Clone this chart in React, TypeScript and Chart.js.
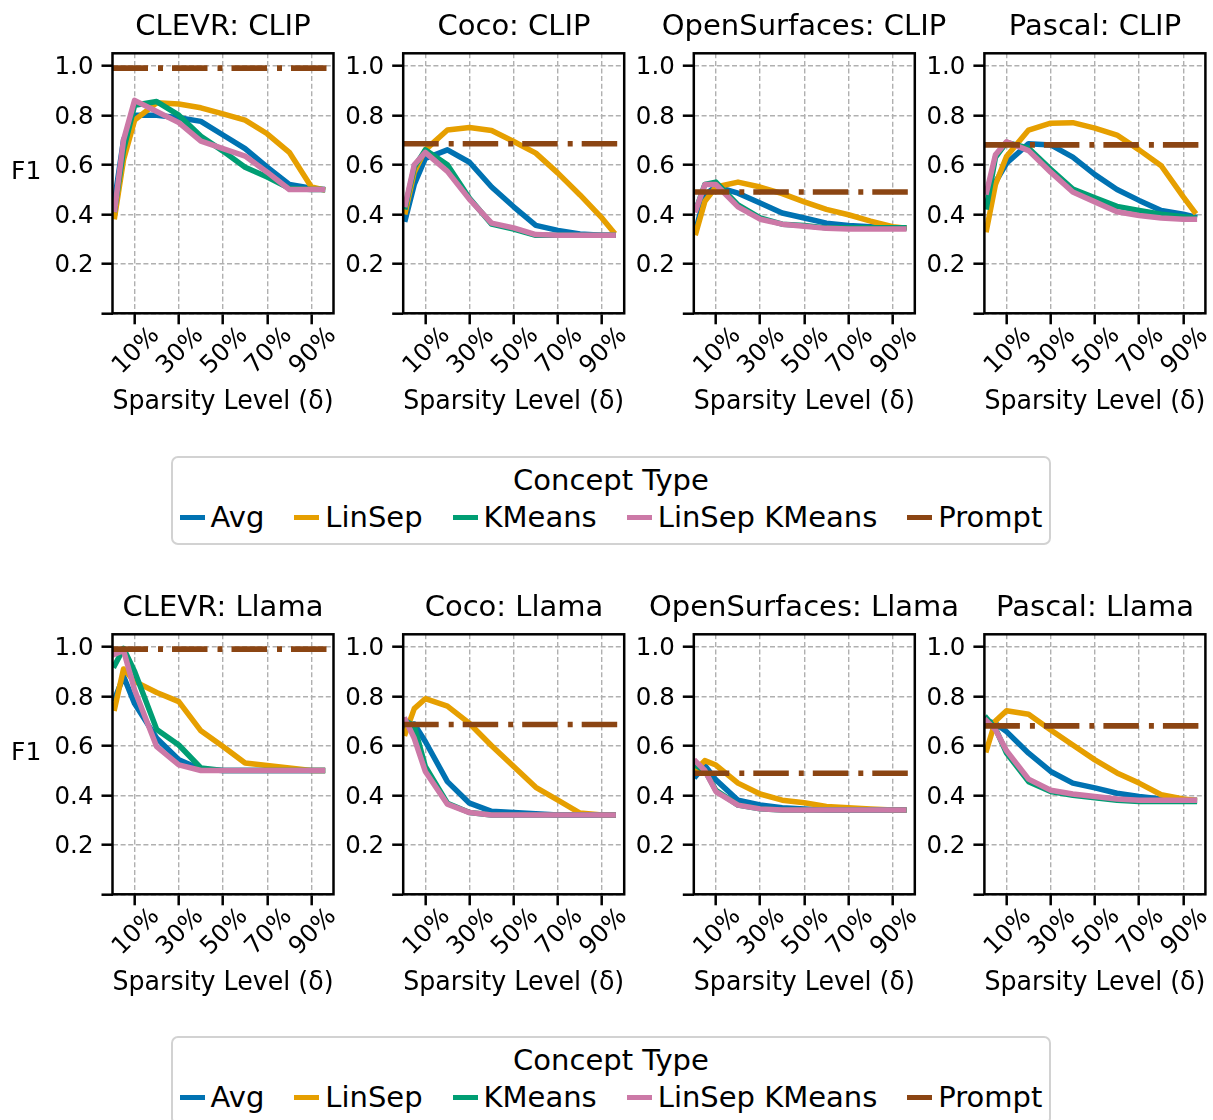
import React, { useEffect, useRef } from 'react';
import { Chart, registerables } from 'chart.js';

Chart.register(...registerables);

// ---------- data ----------
const SPARSITY = [1, 5, 10, 20, 30, 40, 50, 60, 70, 80, 90, 95];
const X_TICKS = [10, 30, 50, 70, 90];
const Y_TICKS = [0, 0.2, 0.4, 0.6, 0.8, 1.0];
const X_MIN = 0;
const X_MAX = 100;
const Y_MIN = 0;
const Y_MAX = 1.05;

const SERIES_NAMES = ['Avg', 'LinSep', 'KMeans', 'LinSep KMeans', 'Prompt'];
const SERIES_COLORS = ['#0072B2', '#E69F00', '#009E73', '#CC79A7', '#8B4513'];

const PANEL_TITLES = [
  'CLEVR: CLIP', 'Coco: CLIP', 'OpenSurfaces: CLIP', 'Pascal: CLIP',
  'CLEVR: Llama', 'Coco: Llama', 'OpenSurfaces: Llama', 'Pascal: Llama',
];

const CLEVR_CLIP_AVG = [0.46, 0.70, 0.80, 0.80, 0.79, 0.775, 0.72, 0.665, 0.59, 0.52, 0.505, 0.50];
const CLEVR_CLIP_LINSEP = [0.39, 0.62, 0.78, 0.85, 0.845, 0.83, 0.805, 0.78, 0.725, 0.65, 0.51, 0.50];
const CLEVR_CLIP_KMEANS = [0.42, 0.66, 0.84, 0.855, 0.80, 0.715, 0.655, 0.59, 0.55, 0.505, 0.50, 0.50];
const CLEVR_CLIP_LSKM = [0.42, 0.70, 0.86, 0.815, 0.77, 0.695, 0.665, 0.635, 0.57, 0.50, 0.50, 0.50];

const COCO_CLIP_AVG = [0.38, 0.52, 0.625, 0.66, 0.61, 0.51, 0.43, 0.355, 0.335, 0.32, 0.315, 0.315];
const COCO_CLIP_LINSEP = [0.41, 0.57, 0.66, 0.74, 0.75, 0.738, 0.694, 0.647, 0.566, 0.478, 0.384, 0.33];
const COCO_CLIP_KMEANS = [0.43, 0.59, 0.66, 0.60, 0.465, 0.36, 0.34, 0.315, 0.315, 0.315, 0.315, 0.315];
const COCO_CLIP_LSKM = [0.44, 0.60, 0.65, 0.573, 0.46, 0.364, 0.345, 0.318, 0.315, 0.315, 0.315, 0.315];

const OS_CLIP_AVG = [0.34, 0.478, 0.512, 0.485, 0.445, 0.405, 0.385, 0.364, 0.355, 0.35, 0.345, 0.345];
const OS_CLIP_LINSEP = [0.326, 0.452, 0.51, 0.53, 0.51, 0.483, 0.45, 0.42, 0.398, 0.372, 0.35, 0.345];
const OS_CLIP_KMEANS = [0.42, 0.52, 0.53, 0.438, 0.385, 0.36, 0.355, 0.345, 0.345, 0.345, 0.345, 0.345];
const OS_CLIP_LSKM = [0.418, 0.52, 0.52, 0.43, 0.38, 0.36, 0.352, 0.343, 0.34, 0.34, 0.34, 0.34];

const PASCAL_CLIP_AVG = [0.445, 0.53, 0.606, 0.685, 0.68, 0.631, 0.56, 0.50, 0.456, 0.415, 0.40, 0.39];
const PASCAL_CLIP_LINSEP = [0.338, 0.52, 0.633, 0.74, 0.768, 0.77, 0.748, 0.72, 0.66, 0.596, 0.47, 0.41];
const PASCAL_CLIP_KMEANS = [0.43, 0.63, 0.69, 0.667, 0.582, 0.502, 0.466, 0.432, 0.415, 0.40, 0.39, 0.385];
const PASCAL_CLIP_LSKM = [0.49, 0.64, 0.693, 0.657, 0.57, 0.49, 0.45, 0.41, 0.395, 0.385, 0.38, 0.38];

const CLEVR_LLAMA_AVG = [0.79, 0.88, 0.77, 0.63, 0.543, 0.505, 0.50, 0.50, 0.50, 0.50, 0.50, 0.50];
const CLEVR_LLAMA_LINSEP = [0.751, 0.91, 0.86, 0.815, 0.778, 0.66, 0.597, 0.53, 0.52, 0.51, 0.50, 0.50];
const CLEVR_LLAMA_KMEANS = [0.925, 0.993, 0.90, 0.666, 0.603, 0.51, 0.50, 0.50, 0.50, 0.50, 0.50, 0.50];
const CLEVR_LLAMA_LSKM = [0.97, 0.985, 0.825, 0.596, 0.523, 0.50, 0.50, 0.50, 0.50, 0.50, 0.50, 0.50];

const COCO_LLAMA_AVG = [0.677, 0.688, 0.617, 0.455, 0.368, 0.335, 0.33, 0.325, 0.32, 0.32, 0.32, 0.32];
const COCO_LLAMA_LINSEP = [0.65, 0.75, 0.79, 0.76, 0.69, 0.60, 0.516, 0.432, 0.38, 0.328, 0.32, 0.32];
const COCO_LLAMA_KMEANS = [0.70, 0.68, 0.516, 0.368, 0.33, 0.32, 0.32, 0.32, 0.32, 0.32, 0.32, 0.32];
const COCO_LLAMA_LSKM = [0.704, 0.63, 0.496, 0.364, 0.33, 0.32, 0.32, 0.32, 0.32, 0.32, 0.32, 0.32];

const OS_LLAMA_AVG = [0.478, 0.52, 0.462, 0.38, 0.361, 0.35, 0.345, 0.34, 0.34, 0.34, 0.34, 0.34];
const OS_LLAMA_LINSEP = [0.502, 0.54, 0.522, 0.449, 0.405, 0.38, 0.37, 0.355, 0.35, 0.345, 0.34, 0.34];
const OS_LLAMA_KMEANS = [0.52, 0.50, 0.42, 0.36, 0.345, 0.34, 0.34, 0.34, 0.34, 0.34, 0.34, 0.34];
const OS_LLAMA_LSKM = [0.536, 0.50, 0.415, 0.36, 0.345, 0.34, 0.34, 0.34, 0.34, 0.34, 0.34, 0.34];

const PASCAL_LLAMA_AVG = [0.70, 0.69, 0.657, 0.57, 0.496, 0.449, 0.43, 0.408, 0.395, 0.385, 0.38, 0.38];
const PASCAL_LLAMA_LINSEP = [0.583, 0.70, 0.741, 0.727, 0.664, 0.603, 0.543, 0.49, 0.449, 0.402, 0.385, 0.38];
const PASCAL_LLAMA_KMEANS = [0.711, 0.67, 0.57, 0.455, 0.415, 0.40, 0.39, 0.38, 0.375, 0.375, 0.375, 0.375];
const PASCAL_LLAMA_LSKM = [0.70, 0.665, 0.58, 0.465, 0.42, 0.405, 0.395, 0.385, 0.38, 0.38, 0.38, 0.38];

const PROMPT_F1 = [0.99, 0.685, 0.49, 0.68, 0.99, 0.686, 0.489, 0.68];

const PANEL_SERIES = [
  [CLEVR_CLIP_AVG, CLEVR_CLIP_LINSEP, CLEVR_CLIP_KMEANS, CLEVR_CLIP_LSKM],
  [COCO_CLIP_AVG, COCO_CLIP_LINSEP, COCO_CLIP_KMEANS, COCO_CLIP_LSKM],
  [OS_CLIP_AVG, OS_CLIP_LINSEP, OS_CLIP_KMEANS, OS_CLIP_LSKM],
  [PASCAL_CLIP_AVG, PASCAL_CLIP_LINSEP, PASCAL_CLIP_KMEANS, PASCAL_CLIP_LSKM],
  [CLEVR_LLAMA_AVG, CLEVR_LLAMA_LINSEP, CLEVR_LLAMA_KMEANS, CLEVR_LLAMA_LSKM],
  [COCO_LLAMA_AVG, COCO_LLAMA_LINSEP, COCO_LLAMA_KMEANS, COCO_LLAMA_LSKM],
  [OS_LLAMA_AVG, OS_LLAMA_LINSEP, OS_LLAMA_KMEANS, OS_LLAMA_LSKM],
  [PASCAL_LLAMA_AVG, PASCAL_LLAMA_LINSEP, PASCAL_LLAMA_KMEANS, PASCAL_LLAMA_LSKM],
];

// ---------- layout ----------
const FONT = "'DejaVu Sans', sans-serif";
const FRAME_LEFTS = [112.5, 403.2, 693.8, 984.4];
const ROW_TOPS = [0, 581];
const FRAME_W = 221;
const CANVAS_W = 424;
const CANVAS_H = 420;
const X_AXIS_H = 106.7;

const framePlugin = {
  id: 'frameBox',
  afterDatasetsDraw(chart: any) {
    const { ctx, chartArea } = chart;
    ctx.save();
    ctx.strokeStyle = '#000';
    ctx.lineWidth = 2.5;
    ctx.strokeRect(chartArea.left, chartArea.top, chartArea.right - chartArea.left, chartArea.bottom - chartArea.top);
    ctx.restore();
  },
};

function Panel({ index }: { index: number }) {
  const ref = useRef<HTMLCanvasElement>(null);
  const col = index % 4;
  const row = Math.floor(index / 4);
  const frameLeft = FRAME_LEFTS[col];
  const frameCenter = frameLeft + FRAME_W / 2;
  const canvasLeft = Math.round(frameCenter - CANVAS_W / 2);
  const yAxisW = frameLeft - canvasLeft;
  const W = CANVAS_W;
  const rightSpace = W - yAxisW - FRAME_W;
  const top = ROW_TOPS[row];

  useEffect(() => {
    const series = PANEL_SERIES[index];
    const lineDatasets = series.map((vals, si) => ({
      label: SERIES_NAMES[si],
      data: SPARSITY.map((x, i) => ({ x, y: vals[i] })),
      borderColor: SERIES_COLORS[si],
      backgroundColor: SERIES_COLORS[si],
      borderWidth: 5.5,
      pointRadius: 0,
      tension: 0,
      fill: false,
      clip: 0,
      yAxisID: 'y',
      borderJoinStyle: 'round' as const,
      borderCapStyle: 'square' as const,
      order: 10 - si,
    }));
    const promptDataset = {
      label: SERIES_NAMES[4],
      data: [{ x: X_MIN, y: PROMPT_F1[index] }, { x: X_MAX, y: PROMPT_F1[index] }],
      borderColor: SERIES_COLORS[4],
      backgroundColor: SERIES_COLORS[4],
      borderWidth: 5.6,
      borderDash: [35.5, 10, 5, 9],
      borderCapStyle: 'butt' as const,
      pointRadius: 0,
      fill: false,
      clip: 0,
      yAxisID: 'y',
      order: 1,
    };

    const tickFont = { family: FONT, size: 24.5 };
    const chart = new Chart(ref.current as HTMLCanvasElement, {
      type: 'line',
      data: { datasets: [...lineDatasets, promptDataset] as any },
      options: {
        responsive: false,
        animation: false,
        devicePixelRatio: 1,
        layout: { padding: 0 },
        plugins: {
          legend: { display: false },
          tooltip: { enabled: false },
          title: {
            display: true,
            text: PANEL_TITLES[index],
            fullSize: true,
            color: '#000',
            font: { family: FONT, size: 29, weight: 'normal' },
            padding: { top: 10, bottom: 8.5 },
          },
        },
        scales: {
          x: {
            type: 'linear',
            min: X_MIN,
            max: X_MAX,
            afterBuildTicks: (s: any) => { s.ticks = X_TICKS.map((v) => ({ value: v })); },
            afterFit: (s: any) => {
              s.height = X_AXIS_H;
              s.paddingLeft = 0; s.paddingRight = 0; s.paddingTop = 0; s.paddingBottom = 0;
            },
            ticks: {
              autoSkip: false,
              minRotation: 45,
              maxRotation: 45,
              labelOffset: 21,
              padding: -3,
              color: '#000',
              font: tickFont,
              callback: (v: any) => `${v}%`,
            },
            grid: { color: '#b0b0b0', lineWidth: 1.4, tickLength: 11, tickWidth: 2.5, tickColor: '#000' },
            border: { display: false, dash: [5, 2.6] },
            title: {
              display: true,
              text: 'Sparsity Level (δ)',
              color: '#000',
              font: { family: FONT, size: 26.6 },
              padding: { top: 0, bottom: 2.2 },
            },
          },
          y: {
            type: 'linear',
            position: 'left',
            min: Y_MIN,
            max: Y_MAX,
            afterBuildTicks: (s: any) => { s.ticks = Y_TICKS.map((v) => ({ value: v })); },
            afterFit: (s: any) => {
              s.width = yAxisW;
              s.paddingLeft = 0; s.paddingRight = 0; s.paddingTop = 0; s.paddingBottom = 0;
            },
            ticks: {
              padding: 8,
              labelOffset: 2,
              color: '#000',
              font: tickFont,
              callback: (v: any) => (Number(v) === 0 ? '' : Number(v).toFixed(1)),
            },
            grid: { color: '#b0b0b0', lineWidth: 1.4, tickLength: 11, tickWidth: 2.5, tickColor: '#000' },
            border: { display: false, dash: [5, 2.6] },
          },
          ySpacer: {
            type: 'linear',
            position: 'right',
            min: Y_MIN,
            max: Y_MAX,
            ticks: { display: false },
            grid: { display: false, drawTicks: false },
            border: { display: false },
            afterFit: (s: any) => {
              s.width = rightSpace;
              s.paddingLeft = 0; s.paddingRight = 0; s.paddingTop = 0; s.paddingBottom = 0;
            },
          },
        },
      } as any,
      plugins: [framePlugin],
    });
    return () => chart.destroy();
  }, []);

  return (
    <canvas
      ref={ref}
      width={W}
      height={CANVAS_H}
      style={{ position: 'absolute', left: canvasLeft, top, width: W, height: CANVAS_H }}
    />
  );
}

function Legend({ top }: { top: number }) {
  return (
    <div
      style={{
        position: 'absolute', left: 171, top, width: 880, height: 89, boxSizing: 'border-box',
        border: '2.5px solid #d2d2d2', borderRadius: 7, background: '#fff',
        fontFamily: FONT, fontSize: 29, color: '#000',
      }}
    >
      <div style={{ position: 'absolute', left: 0, right: 0, top: 6, lineHeight: '32px', textAlign: 'center' }}>
        Concept Type
      </div>
      <div style={{ position: 'absolute', left: 0, right: 0, top: 43, lineHeight: '32px', display: 'flex', justifyContent: 'center', whiteSpace: 'nowrap' }}>
        {SERIES_NAMES.map((name, i) => (
          <div key={name} style={{ display: 'flex', alignItems: 'center', marginLeft: i === 0 ? 0 : 30 }}>
            <span style={{ display: 'inline-block', width: 25, height: 5, background: SERIES_COLORS[i], marginRight: 6 }} />
            <span>{name}</span>
          </div>
        ))}
      </div>
    </div>
  );
}

export default function App() {
  return (
    <div style={{ position: 'absolute', left: 0, top: 0, width: 1213, height: 1120, overflow: 'hidden', background: '#fff' }}>
      {PANEL_TITLES.map((t, i) => <Panel key={t} index={i} />)}
      {ROW_TOPS.map((rt) => (
        <div key={`f1-${rt}`} style={{ position: 'absolute', left: 11, top: rt + 156, fontFamily: FONT, fontSize: 25, lineHeight: '30px', color: '#000' }}>
          F1
        </div>
      ))}
      <Legend top={456} />
      <Legend top={1036} />
    </div>
  );
}
